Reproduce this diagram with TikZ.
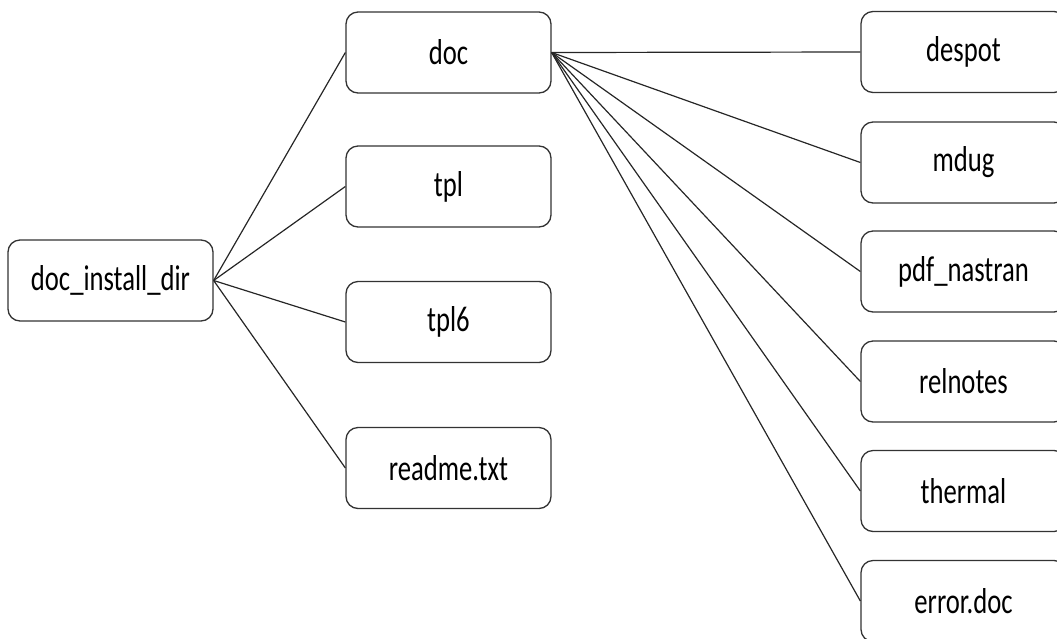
\documentclass[tikz,border=0pt]{standalone}
\usepackage{fontspec}
\setmainfont{Carlito}[FakeStretch=0.74]
\begin{document}
\begin{tikzpicture}[x=1pt,y=-1pt,
  box/.style={draw=black!80,line width=1.3pt,rounded corners=12pt,minimum width=205pt,minimum height=81pt,inner sep=0pt,font=\fontsize{36}{40}\selectfont,fill=white},
  link/.style={draw=black!85,line width=1.2pt}]
\useasboundingbox (0,0) rectangle (1057,638);
\node[box] (root) at (110.5,280.5) {doc\_install\_dir};
\node[box] (doc) at (448.5,52.5) {doc};
\node[box] (tpl) at (448.5,186.5) {tpl};
\node[box] (tplsix) at (448.5,322) {tpl6};
\node[box] (readme) at (448.5,468) {readme.txt};
\node[box] (despot) at (963.5,52) {despot};
\node[box] (mdug) at (963.5,162.5) {mdug};
\node[box] (pdf) at (963.5,271.5) {pdf\_nastran};
\node[box] (rel) at (963.5,381.5) {relnotes};
\node[box] (thermal) at (963.5,491) {thermal};
\node[box] (err) at (963.5,601) {error.doc};
\foreach \t in {doc,tpl,tplsix,readme} \draw[link] (root.east) -- (\t.west);
\foreach \t in {despot,mdug,pdf,rel,thermal,err} \draw[link] (doc.east) -- (\t.west);
\end{tikzpicture}
\end{document}
